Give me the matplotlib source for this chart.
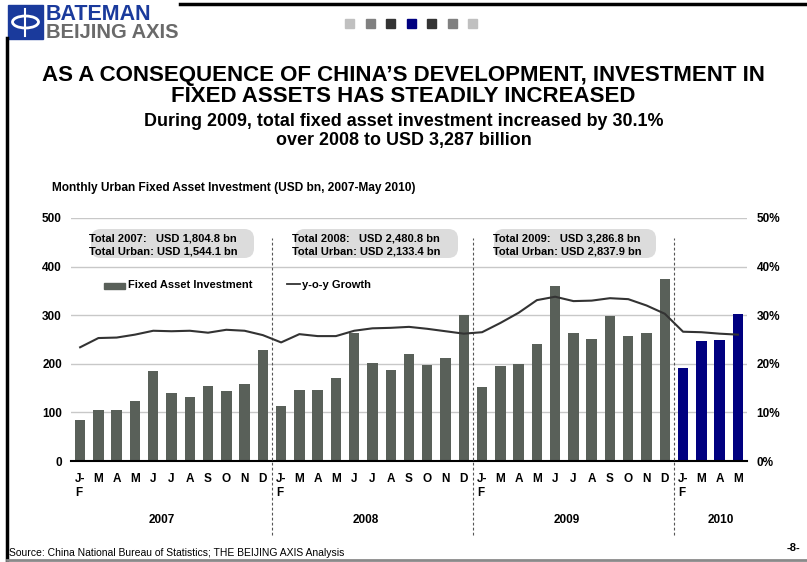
import numpy as np
import matplotlib
matplotlib.use('Agg')
import matplotlib.pyplot as plt
from matplotlib import font_manager
from matplotlib.patches import FancyBboxPatch, Rectangle
import matplotlib.transforms as mtransforms

names = set(f.name for f in font_manager.fontManager.ttflist)
NARROW = 'Liberation Sans Narrow' if 'Liberation Sans Narrow' in names else 'Liberation Sans'
ARIAL = 'Liberation Sans'

# ---- data ----
months = ['J-\nF', 'M', 'A', 'M', 'J', 'J', 'A', 'S', 'O', 'N', 'D'] * 3 + ['J-\nF', 'M', 'A', 'M']
years = ['2007', '2008', '2009', '2010']
investment = [84, 104, 104, 123, 185, 139, 131, 154, 144, 158, 228,
              113, 146, 146, 170, 263, 201, 187, 220, 197, 211, 300,
              152, 195, 199, 240, 360, 263, 251, 298, 257, 263, 374,
              191, 246, 248, 302]
growth = [23.4, 25.3, 25.4, 26.0, 26.8, 26.7, 26.8, 26.4, 27.0, 26.8, 25.9,
          24.4, 26.1, 25.7, 25.7, 26.8, 27.3, 27.4, 27.6, 27.2, 26.7, 26.2,
          26.5, 28.4, 30.5, 33.1, 33.8, 32.9, 33.0, 33.5, 33.3, 32.0, 30.3,
          26.6, 26.5, 26.2, 26.0]
totals = [('Total 2007:   USD 1,804.8 bn', 'Total Urban: USD 1,544.1 bn'),
          ('Total 2008:   USD 2,480.8 bn', 'Total Urban: USD 2,133.4 bn'),
          ('Total 2009:   USD 3,286.8 bn', 'Total Urban: USD 2,837.9 bn')]

W, H = 807, 562
fig = plt.figure(figsize=(W / 100, H / 100), dpi=100)

def fx(px):
    return px / W

def fy(py):
    return 1 - py / H

# ---- slide frame ----
fig.add_artist(plt.Line2D([fx(180), 1], [fy(4), fy(4)], color='black', lw=2.5))
fig.add_artist(plt.Line2D([fx(7), fx(7)], [fy(38), fy(560)], color='black', lw=2.5))
fig.add_artist(plt.Line2D([fx(7), 1], [fy(560), fy(560)], color='#8a8a8a', lw=2))

# logo
fig.add_artist(Rectangle((fx(8), fy(39)), fx(35), 34 / H, color='#1a3a9c'))
fig.add_artist(plt.Line2D([fx(25.5), fx(25.5)], [fy(9), fy(36)], color='white', lw=1.5))
fig.add_artist(matplotlib.patches.Ellipse((fx(25.5), fy(22)), fx(26), 12 / H, fill=False, ec='white', lw=2))
fig.text(fx(46), fy(20), 'BATEMAN', color='#1a3a9c', fontsize=15.5, fontweight='bold',
         family=ARIAL, va='baseline', ha='left')
fig.text(fx(46), fy(38), 'BEIJING AXIS', color='#6a6a6a', fontsize=14.5, fontweight='bold',
         family=ARIAL, va='baseline', ha='left')

# squares at top
sq_colors = ['#c0c0c0', '#808080', '#333333', '#000080', '#333333', '#808080', '#c0c0c0']
for k, c in enumerate(sq_colors):
    fig.add_artist(Rectangle((fx(345 + k * 20.5), fy(28)), fx(9), 9 / H, color=c))

# titles
fig.text(0.5, fy(75), 'AS A CONSEQUENCE OF CHINA\u2019S DEVELOPMENT, INVESTMENT IN',
         ha='center', va='center', fontsize=16, fontweight='bold', family=NARROW)
fig.text(0.5, fy(97), 'FIXED ASSETS HAS STEADILY INCREASED',
         ha='center', va='center', fontsize=16, fontweight='bold', family=NARROW)
fig.text(0.5, fy(121), 'During 2009, total fixed asset investment increased by 30.1%',
         ha='center', va='center', fontsize=12.9, fontweight='bold', family=NARROW)
fig.text(0.5, fy(141), 'over 2008 to USD 3,287 billion',
         ha='center', va='center', fontsize=12.9, fontweight='bold', family=NARROW)
fig.text(fx(52), fy(188), 'Monthly Urban Fixed Asset Investment (USD bn, 2007-May 2010)',
         ha='left', va='center', fontsize=8.6, fontweight='bold', family=NARROW)

# ---- chart ----
ax = fig.add_axes([fx(71), fy(461), fx(747 - 71), (461 - 218) / H])
x = np.arange(len(investment))
colors = ['#596059'] * 33 + ['#000080'] * 4
ax.bar(x, investment, width=0.57, color=colors, zorder=3)
ax.set_xlim(-0.5, len(investment) - 0.5)
ax.set_ylim(0, 500)
ax.set_yticks(range(0, 501, 100))
ax.grid(axis='y', color='#c8c8c8', lw=1, zorder=0)
for s in ['top', 'right', 'left']:
    ax.spines[s].set_visible(False)
ax.spines['bottom'].set_linewidth(1.5)
ax.spines['bottom'].set_zorder(4)
ax.tick_params(axis='y', length=0, pad=6.5, labelsize=8.5)
ax.set_xticks(x)
ax.set_xticklabels(months, multialignment='left')
ax.tick_params(axis='x', length=0, pad=9, labelsize=8.5)
for lab in ax.get_xticklabels() + ax.get_yticklabels():
    lab.set_fontweight('bold')
    lab.set_family(NARROW)
for lab in ax.get_yticklabels():
    lab.set_family(ARIAL)

ax2 = ax.twinx()
ax2.plot(x, growth, color='#333333', lw=1.5, zorder=5)
ax2.set_ylim(0, 50)
ax2.set_yticks(range(0, 51, 10))
ax2.set_yticklabels(['%d%%' % v for v in range(0, 51, 10)])
for s in ax2.spines.values():
    s.set_visible(False)
ax2.tick_params(axis='y', length=0, pad=7, labelsize=8.5)
for lab in ax2.get_yticklabels():
    lab.set_fontweight('bold')
    lab.set_family(ARIAL)

trans = mtransforms.blended_transform_factory(ax.transData, ax.transAxes)
for b in [10.5, 21.5, 32.5]:
    ax.plot([b, b], [-0.305, 0.918], transform=trans, clip_on=False,
            color='#555555', lw=0.8, ls=(0, (2.5, 2)), zorder=6)

year_pos = [4.48, 15.65, 26.65, 35.08]
for yp, yr in zip(year_pos, years):
    ax.text(yp, -0.243, yr, transform=trans, ha='center', va='center',
            fontsize=8.5, fontweight='bold', family=NARROW)

# total boxes
box_px = [(84, 261, 89), (288, 465, 292), (487, 663, 493)]
for (x0, x1, tx), (l1, l2) in zip(box_px, totals):
    fig.add_artist(FancyBboxPatch((fx(x0 + 7), fy(265 - 7)), fx(x1 - x0 - 14), (43 - 14) / H,
                                  boxstyle='round,pad=0,rounding_size=0.012',
                                  mutation_aspect=W / H, fc='#dcdcdc', ec='none', zorder=1))
    fig.text(fx(tx), fy(238), l1, fontsize=8, fontweight='bold', family=ARIAL, va='center', zorder=2)
    fig.text(fx(tx), fy(252), l2, fontsize=8, fontweight='bold', family=ARIAL, va='center', zorder=2)

# legend
fig.add_artist(Rectangle((fx(104), fy(289)), fx(21), 6 / H, color='#596059'))
fig.text(fx(128), fy(285), 'Fixed Asset Investment', fontsize=8, fontweight='bold', family=ARIAL, va='center')
fig.add_artist(plt.Line2D([fx(287), fx(300)], [fy(284), fy(284)], color='#333333', lw=1.3))
fig.text(fx(302), fy(285), 'y-o-y Growth', fontsize=8, fontweight='bold', family=ARIAL, va='center')

# footer
fig.text(fx(9), fy(553), 'Source: China National Bureau of Statistics; THE BEIJING AXIS Analysis',
         fontsize=7.5, family=NARROW, va='center')
fig.text(fx(800), fy(548), '-8-', fontsize=8, fontweight='bold', family=NARROW, va='center', ha='right')

fig.savefig('out.png', dpi=100)
